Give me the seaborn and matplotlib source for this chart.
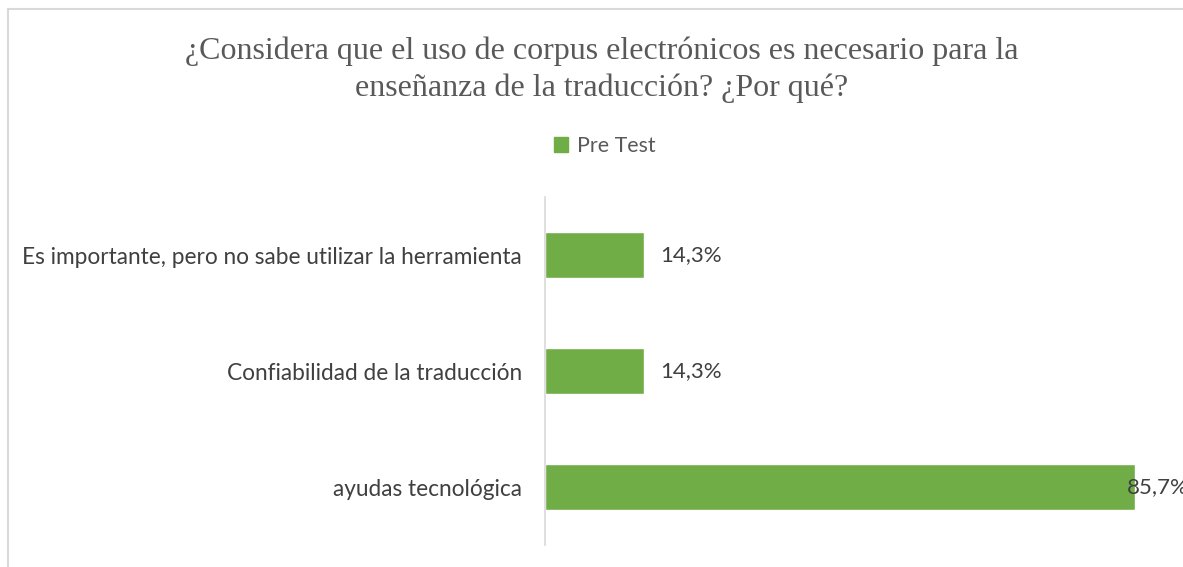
import matplotlib.pyplot as plt
import pandas as pd
import seaborn as sns
from matplotlib.lines import Line2D
from matplotlib.patches import Patch

sns.set_style("white")

# data
categories = [
    "Es importante, pero no sabe utilizar la herramienta",
    "Confiabilidad de la traducción",
    "ayudas tecnológica",
]
pre_test = [14.3, 14.3, 85.7]
value_labels = ["14,3%", "14,3%", "85,7%"]
series_name = "Pre Test"
title = "¿Considera que el uso de corpus electrónicos es necesario para la\nenseñanza de la traducción? ¿Por qué?"

df = pd.DataFrame({"Motivo": categories, "Porcentaje": pre_test})

green = "#70AD47"
grey = "#595959"
dark = "#404040"

fig = plt.figure(figsize=(11.83, 5.67), dpi=100)
# chart-area border: only top and left edges fall inside the picture
bx, by = 8 / 1183, 1 - 9 / 567
fig.add_artist(Line2D([bx, bx], [0, by], transform=fig.transFigure, color="#D9D9D9", lw=1.5))
fig.add_artist(Line2D([bx, 1], [by, by], transform=fig.transFigure, color="#D9D9D9", lw=1.5))

ax = fig.add_axes([545 / 1183, 22 / 567, 620 / 1183, 348 / 567])
sns.barplot(data=df, x="Porcentaje", y="Motivo", color=green, width=0.4,
            saturation=1, ax=ax)

ax.set_xlim(0, 90)
ax.set_ylim(2.5, -0.5)
ax.set_xticks([])
ax.set_xlabel("")
ax.set_ylabel("")
for s in ["top", "right", "bottom"]:
    ax.spines[s].set_visible(False)
ax.spines["left"].set_color("#D9D9D9")
ax.spines["left"].set_linewidth(1.2)
ax.tick_params(axis="y", length=0, pad=16.5, labelsize=16.3, labelcolor=dark)
for t in ax.get_yticklabels():
    t.set_fontfamily("Lato")

offsets = [12, 12, -6]
for i, (v, lab) in enumerate(zip(pre_test, value_labels)):
    ax.annotate(lab, (v, i), xytext=(offsets[i], 0), textcoords="offset points",
                ha="left", va="center", fontsize=16, color=dark, family="Lato",
                annotation_clip=False)

fig.text(602 / 1183, 1 - 70 / 567, title, ha="center", va="center",
         fontsize=23, color=grey, family="Liberation Serif", linespacing=1.35)

fig.legend(handles=[Patch(color=green, label=series_name)], loc="center",
           bbox_to_anchor=(605 / 1183, 1 - 146 / 567), frameon=False,
           handlelength=0.65, handleheight=0.65, handletextpad=0.4,
           prop={"family": "Lato", "size": 15.4}, labelcolor=grey)

fig.savefig("out.png", dpi=100)
